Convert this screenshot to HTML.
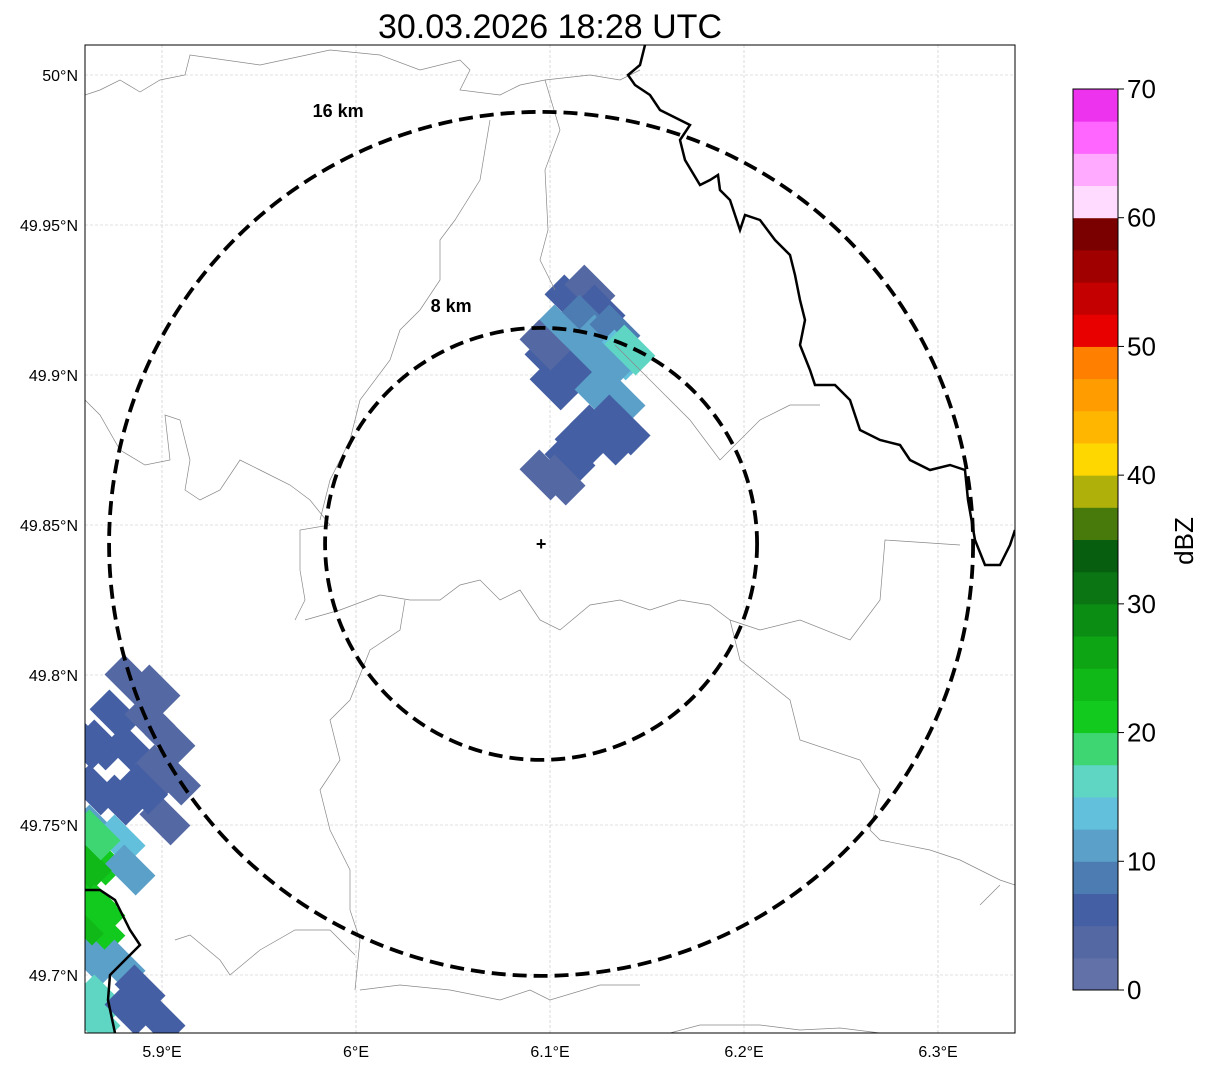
<!DOCTYPE html>
<html><head><meta charset="utf-8"><style>
body{margin:0;background:#fff;width:1207px;height:1069px;overflow:hidden;font-family:"Liberation Sans",sans-serif}
svg text{font-family:"Liberation Sans",sans-serif}
</style></head><body>
<svg id="chart" width="1207" height="1069" viewBox="0 0 1207 1069" xmlns="http://www.w3.org/2000/svg">
<text x="550" y="38" font-size="34" text-anchor="middle">30.03.2026 18:28 UTC</text>
<defs><clipPath id="pc"><rect x="85" y="45" width="930" height="988"/></clipPath></defs>
<g id="grid"></g>
<g id="cells" clip-path="url(#pc)"></g>
<g clip-path="url(#pc)" fill="none" stroke="#888" stroke-width="0.7">
<polyline points="85,95 100,90 120,80 140,92 160,80 185,75 190,55 260,65 330,50 380,55 420,70 460,60 470,70 460,90 500,95 520,85 545,80 590,75 620,80 640,70"/>
<polyline points="545,80 560,130 545,170 548,230 540,260 555,290"/>
<polyline points="85,400 100,415 120,450 145,465 170,460 165,415 180,420 190,460 185,490 200,500 220,490 240,460 260,470 290,485 310,500 330,525 300,530 300,570 305,600 295,620"/>
<polyline points="490,120 480,180 455,220 440,240 440,280 420,310 400,330 390,360 360,400 350,440 330,480 320,520"/>
<polyline points="305,620 340,610 380,595 410,600 440,600 460,585 480,580 500,600 520,590 540,620 560,630 590,605 620,600 650,610 680,600 710,605 730,620 760,630 800,620 850,640 880,600 885,540 960,545"/>
<polyline points="615,345 650,380 690,420 720,460 740,440 760,420 790,405 820,405"/>
<polyline points="405,600 400,630 370,650 350,700 330,720 340,760 320,790 330,830 350,870 350,910 360,940 355,990"/>
<polyline points="175,940 190,935 220,960 230,975 260,950 295,930 330,930 355,955"/>
<polyline points="360,990 400,985 450,990 500,1000 530,990 550,1000 600,985 640,985"/>
<polyline points="670,1033 700,1025 760,1025 800,1030 840,1028 880,1033"/>
<polyline points="730,620 740,660 790,700 800,740 860,760 880,790 870,830 880,840 930,850 960,860 1000,880 1015,885"/>
<polyline points="980,905 1000,885"/>
</g>
<g clip-path="url(#pc)" fill="none" stroke="#000" stroke-width="2.5">
<polyline points="645,45 640,65 628,75 635,85 650,95 660,110 680,120 690,125 680,140 685,160 700,185 710,180 718,175 720,190 730,200 740,230 745,215 760,220 775,240 790,255 795,275 800,300 805,320 800,345 810,370 815,385 835,385 850,400 860,430 880,440 900,445 910,460 930,470 950,465 965,470 968,500 975,540 985,565 1000,565 1010,545 1015,530"/>
<polyline points="85,890 100,890 115,900 130,930 140,945 125,960 110,975 108,1000 115,1033"/>
</g>
<g id="rings" clip-path="url(#pc)"></g>
<rect x="85" y="45" width="930" height="988" fill="none" stroke="#000" stroke-width="1"/>
<g id="axes"></g>
<g id="cbar"></g>
<text transform="translate(1193,541) rotate(-90)" font-size="26" text-anchor="middle">dBZ</text>
</svg>
<script>
const cellLon=[6.1103,6.1206,6.1258,6.1180,6.1052,6.1129,6.1258,6.1335,6.1361,6.1284,6.1206,6.1103,6.1000,6.1026,6.1258,6.1361,6.1335,6.1387,6.1232,6.1155,6.1103,6.0974,6.1052,6.1309,6.1412,6.0974,
5.8835,5.8964,5.8758,5.8938,5.9041,5.8680,5.8835,5.8990,5.8655,5.8784,5.9015,5.8655,5.8784,5.8680,5.8835,5.8639,5.8680,5.8655,5.8784,5.8887,5.8680,5.8990,5.8835,5.8655,5.8610,5.8655,5.8610,5.8680,5.9070,5.8900,5.8610];
const cellLat=[49.925,49.9283,49.9217,49.9183,49.915,49.91,49.9117,49.915,49.9067,49.9033,49.8983,49.9017,49.905,49.8967,49.8933,49.8917,49.885,49.8817,49.8817,49.8767,49.8717,49.8667,49.865,49.8783,49.9083,49.91,
49.7983,49.795,49.7867,49.785,49.7783,49.7767,49.775,49.7683,49.7617,49.7583,49.7517,49.7483,49.745,49.7383,49.735,49.725,49.715,49.705,49.7033,49.695,49.6917,49.685,49.6883,49.685,49.7367,49.7467,49.7183,49.7217,49.7650,49.7620,49.7770];
const cellDbz=[5,3,7,8,12,10,12,8,14,12,10,7,5,5,12,10,7,5,5,5,5,3,4,5,17,4,
3,3,5,3,3,5,7,3,7,5,3,12,14,20,10,22,22,12,10,5,15,5,7,17,24,18,24,20,3,5,5];
const cbTicks=[0,10,20,30,40,50,60,70];
const lonTicks=[5.9,6.0,6.1,6.2,6.3];
const lonLabels=["5.9°E","6°E","6.1°E","6.2°E","6.3°E"];
const latTicks=[50,49.95,49.9,49.85,49.8,49.75,49.7];
const latLabels=["50°N","49.95°N","49.9°N","49.85°N","49.8°N","49.75°N","49.7°N"];
const ringKm=[8,16];
const colors=["#6272a8","#5468a3","#445fa3","#4d7cb3","#5aa0c8","#62c0dc","#5fd6c4","#3dd672","#12c91e","#10b818","#0ea515","#0b8d13","#0a7512","#075e0f","#477a0a","#afb00a","#ffd700","#ffb600","#ff9d00","#ff7f00","#e80000","#c40000","#a00000","#7a0000","#ffdcff","#ffaaff","#ff66ff","#ee33ee"];
const NS="http://www.w3.org/2000/svg";
const X=lon=>162+(lon-5.9)*1940;
const Y=lat=>75+(50-lat)*3000;
const center=[6.0954,49.8437];
const kmPx=27;
function mk(t,a,p){const e=document.createElementNS(NS,t);for(const k in a)e.setAttribute(k,a[k]);p.appendChild(e);return e;}
const grid=document.getElementById('grid'),axes=document.getElementById('axes');
lonTicks.forEach((v,i)=>{const x=X(v);
 const l=mk('line',{x1:x,x2:x,y1:45,y2:1033,stroke:'#c4c4c4','stroke-width':0.6,'stroke-dasharray':'3,2'},grid);
 
 
 const t=mk('text',{x:x,y:1057,'font-size':16,'text-anchor':'middle'},axes);t.textContent=lonLabels[i];
 
 });
latTicks.forEach((v,i)=>{const y=Y(v);
 const l=mk('line',{x1:85,x2:1015,y1:y,y2:y,stroke:'#c4c4c4','stroke-width':0.6,'stroke-dasharray':'3,2'},grid);
 
 
 const t=mk('text',{x:78,y:y+6,'font-size':16,'text-anchor':'end'},axes);t.textContent=latLabels[i];
 
 });
const cells=document.getElementById('cells');
cellDbz.forEach((d,i)=>{const x=X(cellLon[i]),y=Y(cellLat[i]);
 const c=colors[Math.min(27,Math.floor(d/2.5))];
 const r=mk('rect',{x:x-22,y:y-14,width:44,height:28,fill:c,transform:`rotate(45 ${x} ${y})`},cells);
 
 });
const rings=document.getElementById('rings');
const cx=X(center[0]),cy=Y(center[1]);
ringKm.forEach(k=>{const R=k*kmPx;
 const c=mk('circle',{cx:cx,cy:cy,r:R,fill:'none',stroke:'#000','stroke-width':3.8,'stroke-dasharray':'14,7'},rings);
 
 
 const t=mk('text',{x:cx-0.523*R+23,y:cy-0.903*R-37,'font-size':18,'font-weight':'bold','text-anchor':'middle'},rings);t.textContent=k+' km';
 
 });
const m=mk('text',{x:cx,y:cy+6,'font-size':18,'font-weight':'bold','text-anchor':'middle'},rings);m.textContent='+';


const cb=document.getElementById('cbar');
const CB=v=>990-v*(901/70);
colors.forEach((c,i)=>{const r=mk('rect',{x:1073,y:CB((i+1)*2.5),width:45,height:901/28+0.5,fill:c},cb);
 
 });
mk('rect',{x:1073,y:89,width:45,height:901,fill:'none',stroke:'#000','stroke-width':1},cb);
cbTicks.forEach(v=>{const y=CB(v);mk('line',{x1:1118,x2:1124,y1:y,y2:y,stroke:'#000'},cb);
 const t=mk('text',{x:1127,y:y+9,'font-size':26},cb);t.textContent=v;
 
 });
</script>
</body></html>
